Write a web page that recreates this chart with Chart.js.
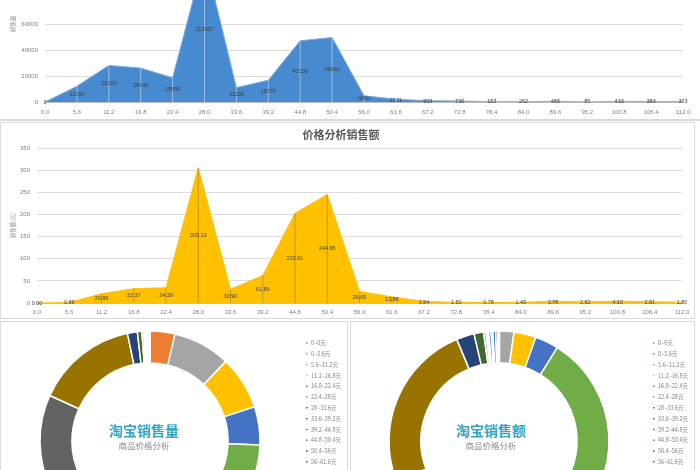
<!DOCTYPE html>
<html lang="zh-CN">
<head>
<meta charset="utf-8">
<title>价格分析</title>
<script src="https://cdn.jsdelivr.net/npm/chart.js@4.4.1/dist/chart.umd.min.js"></script>
<style>
  html, body { margin: 0; padding: 0; background: #fff; overflow: hidden; }
  #page { position: relative; width: 700px; height: 470px; overflow: hidden; background: #fff; }
  .box { position: absolute; box-sizing: border-box; border: 1px solid #dadada; }
  canvas { position: absolute; }
</style>
</head>
<body>
<div id="page">
  <div class="box" style="left:-2px;top:-2px;width:704px;height:123px;border-width:0 0 2px 0;"></div>
  <div class="box" style="left:0;top:122px;width:695px;height:197px;"></div>
  <div class="box" style="left:0;top:321px;width:348px;height:160px;"></div>
  <div class="box" style="left:350px;top:321px;width:345px;height:160px;"></div>
  <canvas id="volumeChart" width="700" height="215" style="left:0;top:-90px"></canvas>
  <canvas id="amountChart" width="700" height="196" style="left:0;top:123px"></canvas>
  <canvas id="volumePie" width="347" height="300" style="left:0;top:302px"></canvas>
  <canvas id="amountPie" width="343" height="300" style="left:351px;top:302px"></canvas>
</div>
<script>
const priceTicks = ['0.0', '5.6', '11.2', '16.8', '22.4', '28.0', '33.6', '39.2', '44.8', '50.4', '56.0',
    '61.6', '67.2', '72.8', '78.4', '84.0', '89.6', '95.2', '100.8', '106.4', '112.0'];
const priceRanges = ['0~0元', '0~5.6元', '5.6~11.2元', '11.2~16.8元', '16.8~22.4元', '22.4~28元', '28~33.6元',
    '33.6~39.2元', '39.2~44.8元', '44.8~50.4元', '50.4~56元', '56~61.6元', '61.6~67.2元', '67.2~72.8元',
    '72.8~78.4元', '78.4~84元', '84~89.6元', '89.6~95.2元', '95.2~100.8元', '100.8~106.4元', '106.4~112元'];
const salesVolume = [0, 12190, 28150, 26140, 18650, 112087, 11100, 16776, 47130, 49680, 4850,
    2171, 993, 730, 183, 262, 485, 85, 433, 383, 373];
const salesAmount = [0, 0.89, 20.89, 32.37, 34.39, 305.23, 30.90, 61.89, 202.61, 244.95, 26.05,
    13.88, 3.54, 1.50, 0.78, 1.49, 3.78, 2.52, 4.10, 2.91, 1.80];
const volumeMax = 120000, volumeStep = 20000;
const amountMax = 350, amountStep = 50;
const officeColors = ['#5B9BD5', '#ED7D31', '#A5A5A5', '#FFC000', '#4472C4', '#70AD47', '#255E91',
    '#9E480E', '#636363', '#997300', '#264478', '#43682B', '#7CAFDD', '#F1975A', '#B7B7B7',
    '#FFCD33', '#698ED0', '#8CC168', '#327DC2', '#D26012', '#848484'];

Chart.defaults.font.family = "'Liberation Sans', 'Noto Sans CJK SC', sans-serif";
Chart.defaults.color = '#7f7f7f';
Chart.defaults.animation = false;

// drop lines + value labels halfway up the area, the way the spreadsheet put them
const areaLabels = {
    id: 'areaLabels',
    afterDatasetsDraw(chart, args, opts) {
        const ctx = chart.ctx;
        const meta = chart.getDatasetMeta(0);
        const base = chart.scales.y.getPixelForValue(0);
        const values = chart.data.datasets[0].data;
        ctx.save();
        ctx.strokeStyle = opts.dropColor;
        ctx.lineWidth = 0.8;
        meta.data.forEach(pt => {
            ctx.beginPath();
            ctx.moveTo(pt.x, pt.y);
            ctx.lineTo(pt.x, base);
            ctx.stroke();
        });
        ctx.font = "5.5px 'Liberation Sans', sans-serif";
        ctx.fillStyle = '#404040';
        ctx.textAlign = 'center';
        ctx.textBaseline = 'middle';
        meta.data.forEach((pt, i) => {
            ctx.fillText(values[i].toFixed(opts.decimals), pt.x, (pt.y + base) / 2);
        });
        ctx.restore();
    }
};

const ringLabel = {
    id: 'ringLabel',
    afterDraw(chart, args, opts) {
        const arc = chart.getDatasetMeta(0).data[0];
        const ctx = chart.ctx;
        ctx.save();
        ctx.textAlign = 'center';
        ctx.textBaseline = 'middle';
        ctx.fillStyle = '#33A3C8';
        ctx.font = "bold 14px 'Noto Sans CJK SC', sans-serif";
        ctx.fillText(opts.title, arc.x + opts.dx, arc.y - 10);
        ctx.fillStyle = '#8a8a8a';
        ctx.font = "8.5px 'Noto Sans CJK SC', sans-serif";
        ctx.fillText(opts.subtitle, arc.x + opts.dx, arc.y + 5);
        ctx.restore();
    }
};

function areaChart(id, values, o) {
    return new Chart(document.getElementById(id), {
        type: 'line',
        data: {
            labels: priceTicks,
            datasets: [{
                data: values, fill: 'origin', backgroundColor: o.fill, borderColor: o.line,
                borderWidth: 1, pointRadius: 0, tension: 0
            }]
        },
        options: {
            responsive: false,
            layout: { padding: o.padding },
            plugins: {
                legend: { display: false },
                tooltip: { enabled: false },
                title: o.title
                    ? { display: true, text: o.title, color: '#595959', font: { size: 11, weight: 'bold', family: "'Noto Sans CJK SC', sans-serif" }, padding: { top: 5, bottom: 6.8 } }
                    : { display: false },
                areaLabels: { dropColor: o.drop, decimals: o.decimals }
            },
            scales: {
                x: {
                    grid: { display: false, drawTicks: false },
                    border: { color: '#bfbfbf' },
                    ticks: { autoSkip: false, maxRotation: 0, padding: o.xPad, font: { size: 6 } },
                    afterFit: s => { s.height = o.xHeight; }
                },
                y: {
                    min: 0, max: o.max,
                    grid: { color: '#dcdcdc', drawTicks: false },
                    border: { display: false },
                    ticks: { stepSize: o.step, padding: 7, font: { size: 6 }, callback: v => v },
                    title: { display: true, text: o.yTitle, color: '#8c8c8c', font: { size: 5.5, family: "'Noto Sans CJK SC', sans-serif" }, padding: { top: 10, bottom: 0 } },
                    afterFit: s => { s.width = o.yWidth; }
                }
            }
        },
        plugins: [areaLabels]
    });
}

function ringChart(id, values, o) {
    const chart = new Chart(document.getElementById(id), {
        type: 'doughnut',
        data: {
            labels: priceRanges,
            datasets: [{
                data: values, backgroundColor: officeColors, borderColor: '#fff', borderWidth: 1.5,
                radius: 110, cutout: '71%'
            }]
        },
        options: {
            responsive: false,
            layout: { padding: { top: 8, bottom: 30, left: 0, right: 0 } },
            plugins: {
                tooltip: { enabled: false },
                legend: {
                    position: 'right', align: 'start',
                    title: { display: true, text: ' ', font: { size: 10 }, padding: { top: 0, bottom: 13 } },
                    labels: { boxWidth: 3, boxHeight: 3, padding: 5.3, color: '#7f7f7f', font: { size: 5.5, family: "'Noto Sans CJK SC', sans-serif" } }
                },
                ringLabel: { title: o.title, subtitle: '商品价格分析', dx: o.dx }
            }
        },
        plugins: [ringLabel]
    });
    // keep the ring centred where it was: legend box starts right at areaRight
    chart.options.layout.padding.right = chart.width - o.areaRight - chart.legend.width;
    chart.update();
    return chart;
}

areaChart('volumeChart', salesVolume, {
    fill: '#478ACF', line: '#7FB0E0', drop: 'rgba(220,235,250,0.7)', decimals: 0,
    max: volumeMax, step: volumeStep, yTitle: '销售量',
    padding: { top: 36, right: 17, left: 0, bottom: 0 }, yWidth: 45, xHeight: 23, xPad: 7
});
areaChart('amountChart', salesAmount, {
    fill: '#FFC000', line: '#FFC000', drop: 'rgba(120,105,80,0.6)', decimals: 2,
    max: amountMax, step: amountStep, yTitle: '销售额(元)', title: '价格分析销售额',
    padding: { top: 0, right: 18, left: 0, bottom: 0 }, yWidth: 37, xHeight: 16, xPad: 6
});
ringChart('volumePie', salesVolume, { title: '淘宝销售量', dx: -6, areaRight: 300 });
ringChart('amountPie', salesAmount, { title: '淘宝销售额', dx: -8, areaRight: 296 });
</script>
</body>
</html>
